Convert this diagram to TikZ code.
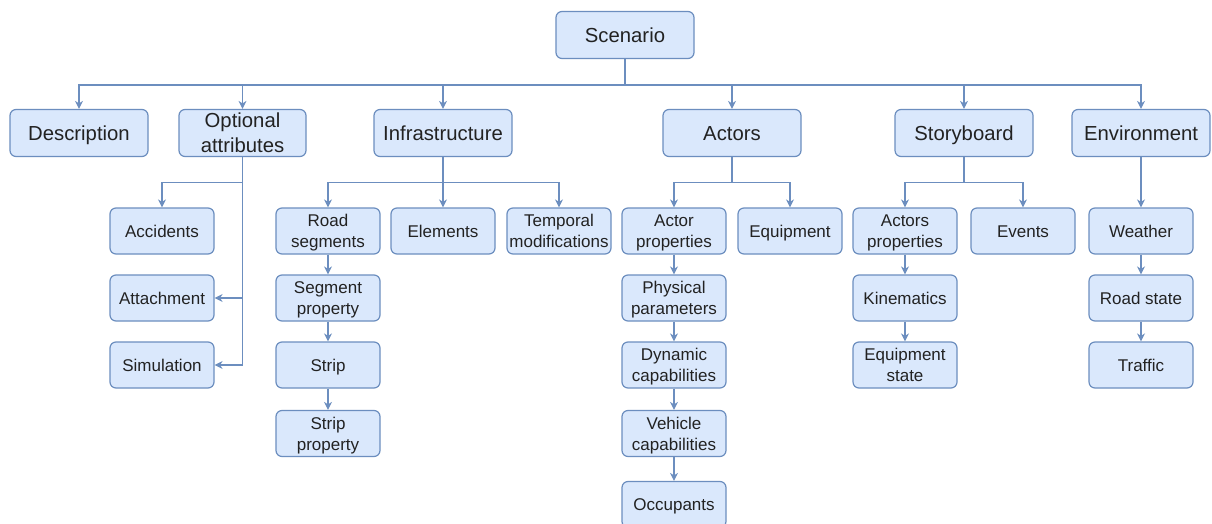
\documentclass[tikz,border=0pt]{standalone}
\usepackage{fontspec}
\setmainfont{Liberation Sans}
\usetikzlibrary{arrows.meta}
\definecolor{boxfill}{HTML}{DAE8FC}
\definecolor{boxline}{HTML}{6C8EBF}
\definecolor{txt}{HTML}{222222}
\begin{document}
\begin{tikzpicture}[x=1pt,y=-1pt,
  box/.style={draw=boxline,fill=boxfill,line width=1.2pt,rounded corners=6pt,
    align=center,text=txt,inner sep=0pt},
  topbox/.style={box,minimum width=138pt,minimum height=47pt,
    font=\fontsize{20.3}{25}\selectfont,text height=14.5pt,text depth=0pt},
  toptwo/.style={topbox,text height=39.5pt},
  subbox/.style={box,minimum width=104pt,minimum height=46pt,
    font=\fontsize{17}{21}\selectfont,text height=12.2pt,text depth=0pt},
  subtwo/.style={subbox,text height=33.2pt},
  link/.style={draw=boxline,line width=1.2pt},
  arr/.style={link,-{Stealth[length=8pt,width=8pt,inset=2.5pt]}}]
\useasboundingbox (0,0) rectangle (1212,524);
\fill[white] (0,0) rectangle (1212,524);

% root and first level
\node[topbox] (scen) at (625,35) {Scenario};
\node[topbox] (desc) at (79,133) {Description};
\node[toptwo,minimum width=127pt] (opt) at (242.5,133) {Optional\\attributes};
\node[topbox] (inf) at (443,133) {Infrastructure};
\node[topbox] (act) at (732,133) {Actors};
\node[topbox] (story) at (964,133) {Storyboard};
\node[topbox] (env) at (1141,133) {Environment};

% optional attributes branch
\node[subbox] (acc) at (162,231) {Accidents};
\node[subbox] (att) at (162,298) {Attachment};
\node[subbox] (sim) at (162,365) {Simulation};

% infrastructure branch
\node[subtwo] (rs) at (328,231) {Road\\segments};
\node[subtwo] (segp) at (328,298) {Segment\\property};
\node[subbox] (strip) at (328,365) {Strip};
\node[subtwo] (stripp) at (328,433.5) {Strip\\property};
\node[subbox] (el) at (443,231) {Elements};
\node[subtwo] (tm) at (559,231) {Temporal\\modifications};

% actors branch
\node[subtwo] (ap) at (674,231) {Actor\\properties};
\node[subtwo] (phys) at (674,298) {Physical\\parameters};
\node[subtwo] (dyn) at (674,365) {Dynamic\\capabilities};
\node[subtwo] (veh) at (674,433.5) {Vehicle\\capabilities};
\node[subbox] (occ) at (674,504.5) {Occupants};
\node[subbox] (equip) at (790,231) {Equipment};

% storyboard branch
\node[subtwo] (aps) at (905,231) {Actors\\properties};
\node[subbox] (kin) at (905,298) {Kinematics};
\node[subtwo] (eqs) at (905,365) {Equipment\\state};
\node[subbox] (ev) at (1023,231) {Events};

% environment branch
\node[subbox] (wea) at (1141,231) {Weather};
\node[subbox] (road) at (1141,298) {Road state};
\node[subbox] (traf) at (1141,365) {Traffic};

% root bus
\draw[link] (scen.south) -- ++(0,26) coordinate (bus);
\foreach \n in {desc,opt,inf,act,story,env}
  \draw[arr] (bus) -| (\n.north);

% optional attributes connectors
\draw[link] (opt.south) -- ++(0,25) coordinate (optb);
\draw[arr] (optb) -| (acc.north);
\draw[arr] (opt.south) |- (att.east);
\draw[arr] (opt.south) |- (sim.east);

% infrastructure connectors
\draw[link] (inf.south) -- ++(0,25) coordinate (infb);
\draw[arr] (infb) -| (rs.north);
\draw[arr] (infb) -- (el.north);
\draw[arr] (infb) -| (tm.north);
\draw[arr] (rs) -- (segp);
\draw[arr] (segp) -- (strip);
\draw[arr] (strip) -- (stripp);

% actors connectors
\draw[link] (act.south) -- ++(0,25) coordinate (actb);
\draw[arr] (actb) -| (ap.north);
\draw[arr] (actb) -| (equip.north);
\draw[arr] (ap) -- (phys);
\draw[arr] (phys) -- (dyn);
\draw[arr] (dyn) -- (veh);
\draw[arr] (veh) -- (occ);

% storyboard connectors
\draw[link] (story.south) -- ++(0,25) coordinate (storyb);
\draw[arr] (storyb) -| (aps.north);
\draw[arr] (storyb) -| (ev.north);
\draw[arr] (aps) -- (kin);
\draw[arr] (kin) -- (eqs);

% environment connectors
\draw[arr] (env) -- (wea);
\draw[arr] (wea) -- (road);
\draw[arr] (road) -- (traf);
\end{tikzpicture}
\end{document}
